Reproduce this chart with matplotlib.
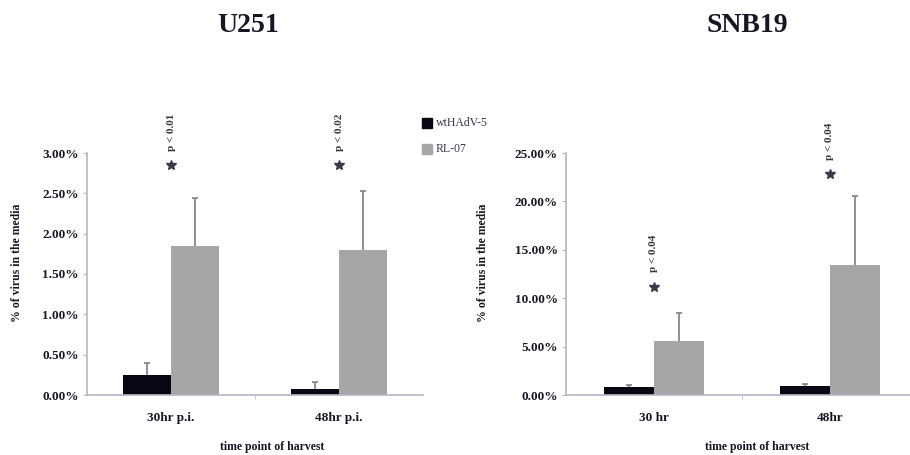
import numpy as np
import matplotlib
matplotlib.use("Agg")
import matplotlib.pyplot as plt
from matplotlib.patches import Rectangle

plt.rcParams['font.family'] = ['Liberation Serif', 'DejaVu Serif']
plt.rcParams['font.weight'] = 'bold'

# --- data ---
series = ['wtHAdV-5', 'RL-07']
colors = ['#0b0614', '#a6a6a6']

u251_cats = ['30hr p.i.', '48hr p.i.']
u251_wt = [0.245, 0.08]
u251_wt_err = [0.155, 0.085]
u251_rl = [1.85, 1.80]
u251_rl_err = [0.59, 0.73]
u251_p = ['p < 0.01', 'p < 0.02']
u251_star = [2.85, 2.85]

snb_cats = ['30 hr', '48hr']
snb_wt = [0.8, 0.9]
snb_wt_err = [0.25, 0.2]
snb_rl = [5.6, 13.4]
snb_rl_err = [2.9, 7.2]
snb_p = ['p < 0.04', 'p < 0.04']
snb_star = [11.2, 22.8]

axis_col = '#b9b5c6'
err_col = '#8a8396'
txt_col = '#1a1424'

fig = plt.figure(figsize=(9.1, 4.55), dpi=100)


def up_err(ax, xs, vals, errs, cap):
    # upper-only error bars: stem from bar top plus a short cap
    tops = np.array(vals) + np.array(errs)
    ax.vlines(xs, vals, tops, color=err_col, lw=1.3, zorder=3)
    ax.hlines(tops, np.array(xs) - cap, np.array(xs) + cap, color=err_col,
              lw=1.3, zorder=3)


def panel(rect, cats, wt, wt_err, rl, rl_err, ymax, step, pvals, stars):
    ax = fig.add_axes(rect)
    x = np.arange(len(cats))
    w = 0.286
    ax.bar(x - w / 2, wt, w, color=colors[0], zorder=2)
    ax.bar(x + w / 2, rl, w, color=colors[1], zorder=2)
    up_err(ax, x - w / 2, wt, wt_err, 0.018)
    up_err(ax, x + w / 2, rl, rl_err, 0.018)
    ax.set_xlim(-0.5, len(cats) - 0.5)
    ax.set_ylim(0, ymax)
    ticks = np.arange(0, ymax + step / 2, step)
    ax.set_yticks(ticks)
    ax.set_yticklabels(['%.2f%%' % t for t in ticks], fontsize=9.5, color=txt_col)
    ax.set_xticks(x)
    ax.set_xticklabels(cats, fontsize=9.5, color=txt_col)
    ax.set_xticks([0.5], minor=True)
    ax.tick_params(axis='x', which='major', length=0, pad=12)
    ax.tick_params(axis='x', which='minor', length=3, color=axis_col, direction='out')
    ax.tick_params(axis='y', length=3, color=axis_col, direction='out', pad=3)
    for s in ['top', 'right']:
        ax.spines[s].set_visible(False)
    for s in ['left', 'bottom']:
        ax.spines[s].set_color(axis_col)
        ax.spines[s].set_linewidth(1.2)
    ax.plot(x, stars, ls='none', marker='*', ms=7.5, color='#3e384c',
            clip_on=False, zorder=4)
    for xi, p, sy in zip(x, pvals, stars):
        ax.text(xi, sy + ymax * 0.06, p, rotation=90, ha='center', va='bottom',
                fontsize=8, color='#3a3448', clip_on=False)
    return ax


ax1 = panel([87 / 910, 60 / 455, 336 / 910, 242 / 455], u251_cats,
            u251_wt, u251_wt_err, u251_rl, u251_rl_err, 3.0, 0.5, u251_p, u251_star)
ax2 = panel([566 / 910, 60 / 455, 352 / 910, 242 / 455], snb_cats,
            snb_wt, snb_wt_err, snb_rl, snb_rl_err, 25.0, 5.0, snb_p, snb_star)

# titles
fig.text(248 / 910, 1 - 25 / 455, 'U251', ha='center', va='center',
         fontsize=20, color=txt_col)
fig.text(747 / 910, 1 - 25 / 455, 'SNB19', ha='center', va='center',
         fontsize=20, color=txt_col)

# axis titles
for xl, xy in [(17, 263), (483, 263)]:
    fig.text(xl / 910, 1 - xy / 455, '% of virus in the media', rotation=90,
             ha='center', va='center', fontsize=8.5, color=txt_col)
for xc in [272, 757]:
    fig.text(xc / 910, 1 - 447 / 455, 'time point of harvest', ha='center',
             va='center', fontsize=8.5, color=txt_col)

# legend
for i, (lab, c) in enumerate(zip(series, colors)):
    yc = 123 + 26 * i
    fig.patches.append(Rectangle((422 / 910, 1 - (yc + 5) / 455), 10 / 910, 10 / 455,
                                 transform=fig.transFigure, color=c))
    fig.text(436 / 910, 1 - yc / 455, lab, ha='left', va='center',
             fontsize=8.5, fontweight='normal', color='#3a3448')

fig.savefig('out.png', dpi=100)
